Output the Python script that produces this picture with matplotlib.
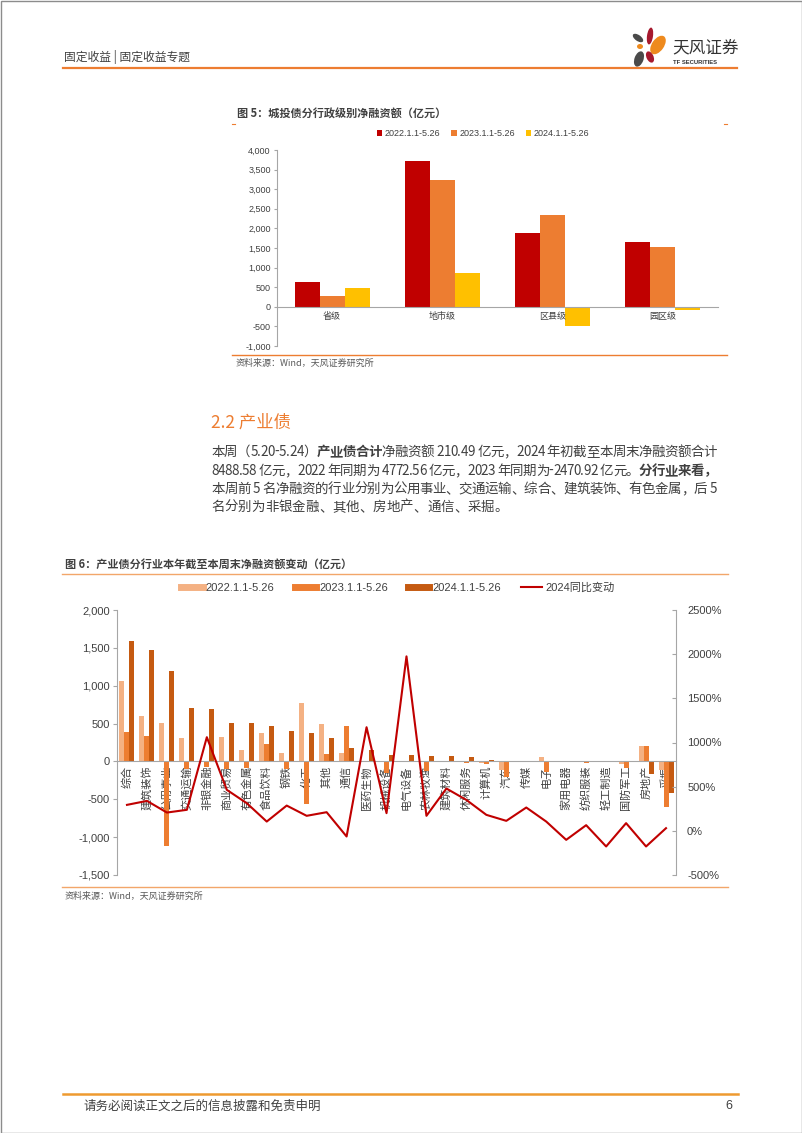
import matplotlib
matplotlib.use("Agg")
import matplotlib.pyplot as plt
from matplotlib.patches import Ellipse, Rectangle
from matplotlib.lines import Line2D
import numpy as np

plt.rcParams['font.family'] = ['Liberation Sans', 'Noto Sans CJK SC', 'DejaVu Sans']
CJK = ['Noto Sans CJK SC', 'DejaVu Sans']

# 图5 城投债分行政级别净融资额（亿元）
cats1 = ['省级', '地市级', '区县级', '园区级']
lg_2022 = [640, 3720, 1880, 1650]
lg_2023 = [270, 3240, 2350, 1520]
lg_2024 = [480, 870, -500, -80]
ticks1 = [-1000, -500, 0, 500, 1000, 1500, 2000, 2500, 3000, 3500, 4000]

# 图6 产业债分行业净融资额（亿元）及2024同比变动（%）
cats2 = ['综合', '建筑装饰', '公用事业', '交通运输', '非银金融', '商业贸易', '有色金属',
         '食品饮料', '钢铁', '化工', '其他', '通信', '医药生物', '机械设备', '电气设备',
         '农林牧渔', '建筑材料', '休闲服务', '计算机', '汽车', '传媒', '电子', '家用电器',
         '纺织服装', '轻工制造', '国防军工', '房地产', '采掘']
ind_2022 = [1056, 594, 506, 313, 5, 321, 154, 374, 106, 770, 498, 115, -10, 10, 10,
            0, 0, -10, -20, -119, -5, 57, -5, -10, -10, -30, 202, -119]
ind_2023 = [387, 330, -1122, -100, -75, -96, -90, 224, -96, -559, 92, 466, 0, -150, 0,
            -120, 0, -20, -30, -207, -10, -141, -5, -20, -5, -88, 202, -603]
ind_2024 = [1589, 1475, 1193, 704, 696, 506, 506, 471, 400, 374, 313, 172, 145, 88, 79,
            66, 66, 57, 20, -5, 10, -5, -5, -5, 0, -10, -163, -418]
yoy_2024 = [294, 339, 207, 238, 1060, 464, 313, 105, 286, 170, 211, -64, 1173, 200, 1975,
            170, 479, 350, 181, 113, 264, 105, -102, 64, -177, 87, -177, 30]

W, H = 802, 1133
fig = plt.figure(figsize=(W / 100, H / 100), dpi=100)

# 整页的像素坐标层
page = fig.add_axes([0, 0, 1, 1])
page.set_xlim(0, W)
page.set_ylim(H, 0)
page.axis('off')

def ax_rect(x0, y0, x1, y1):
    return [x0 / W, 1 - y1 / H, (x1 - x0) / W, (y1 - y0) / H]

ORANGE = '#ED7D31'
GRAY = '#404040'
AXC = '#A6A6A6'

# 页眉
page.text(64, 57, '固定收益 | 固定收益专题', fontsize=8.5, color=GRAY, va='center', family=CJK)
page.plot([63, 737], [68, 68], color=ORANGE, lw=1.6)
petals = [
    ((650, 36), 6, 17, 8, '#A6192E'),
    ((658, 45), 12, 21, 35, '#EE8A1E'),
    ((638, 38), 6, 12, -55, '#4A4A4A'),
    ((640, 46.5), 6, 5, 0, '#EE8A1E'),
    ((639, 59), 9, 16, 20, '#4A4A4A'),
    ((650, 57), 7, 12, -25, '#A6192E'),
]
for c, w, h, a, col in petals:
    page.add_patch(Ellipse(c, w, h, angle=a, color=col, lw=0))
page.text(672, 48, '天风证券', fontsize=12, color='#333333', va='center', family=CJK)
page.text(673, 63, 'TF SECURITIES', fontsize=4.2, fontweight='bold', color='#333333', va='center')

# 图5
page.text(237, 114, '图 5：城投债分行政级别净融资额（亿元）', fontsize=8, fontweight='bold',
          color=GRAY, va='center', family=CJK)
page.plot([232, 235], [124, 124], color=ORANGE, lw=0.8)
page.plot([724, 727], [124, 124], color=ORANGE, lw=0.8)

ax1 = fig.add_axes(ax_rect(277, 150, 718, 346))
ax1.set_facecolor('none')
ax1.spines['bottom'].set_position(('data', 0))
x1 = np.arange(len(cats1))
bw1 = 0.227
ax1.bar(x1 - bw1, lg_2022, bw1, color='#C00000', label='2022.1.1-5.26')
ax1.bar(x1, lg_2023, bw1, color=ORANGE, label='2023.1.1-5.26')
ax1.bar(x1 + bw1, lg_2024, bw1, color='#FFC000', label='2024.1.1-5.26')
ax1.set_xlim(-0.5, len(cats1) - 0.5)
ax1.set_ylim(-1000, 4000)
ax1.set_yticks(ticks1)
ax1.set_yticklabels([f'{v:,}' for v in ticks1], fontsize=6.5, color=GRAY)
ax1.set_xticks(x1)
ax1.set_xticklabels(cats1, fontsize=6.5, color=GRAY, family=CJK)
ax1.spines[['top', 'right']].set_visible(False)
for s in ['left', 'bottom']:
    ax1.spines[s].set_color(AXC)
    ax1.spines[s].set_linewidth(0.8)
ax1.tick_params(axis='x', length=0, pad=4)
ax1.tick_params(axis='y', length=2.5, color=AXC, pad=2)
ax1.legend(loc='center', bbox_to_anchor=(483 / W, 1 - 134 / H), bbox_transform=fig.transFigure,
           ncol=3, frameon=False, fontsize=6.5, handlelength=0.6, handleheight=0.6,
           handletextpad=0.3, columnspacing=1.2, labelcolor=GRAY)

page.plot([232, 727], [355, 355], color=ORANGE, lw=1.0)
page.text(236, 363, '资料来源：Wind，天风证券研究所', fontsize=6.5, color='#595959', va='center', family=CJK)

# 正文
page.text(211, 423, '2.2 产业债', fontsize=12.5, color=ORANGE, va='center', family=CJK)

BODY_FS = 9.7
renderer = fig.canvas.get_renderer()

def body_line(y, segs, x0=211, x1=717, justify=True):
    probe = page.text(0, 0, '', fontsize=BODY_FS, family=CJK)
    items = []
    off = 0.0
    for s, wt in segs:
        probe.set_fontweight(wt)
        probe.set_text('x')
        wx = probe.get_window_extent(renderer).width
        for i, ch in enumerate(s):
            probe.set_text(s[:i] + 'x')
            items.append((ch, wt, off + probe.get_window_extent(renderer).width - wx))
        probe.set_text(s + 'x')
        off += probe.get_window_extent(renderer).width - wx
    probe.remove()
    extra = (x1 - x0 - off) / (len(items) - 1) if justify else 0
    for i, (ch, wt, xo) in enumerate(items):
        if ch == ' ':
            continue
        page.text(x0 + xo + i * extra, y, ch, fontsize=BODY_FS, fontweight=wt,
                  color=GRAY, va='center', family=CJK)

body_line(452, [('本周（5.20-5.24）', 'normal'), ('产业债合计', 'bold'),
                ('净融资额 210.49 亿元，2024 年初截至本周末净融资额合计', 'normal')])
body_line(471, [('8488.58 亿元，2022 年同期为 4772.56 亿元，2023 年同期为-2470.92 亿元。', 'normal'),
                ('分行业来看，', 'bold')])
body_line(489, [('本周前 5 名净融资的行业分别为公用事业、交通运输、综合、建筑装饰、有色金属，后 5', 'normal')])
body_line(507, [('名分别为非银金融、其他、房地产、通信、采掘。', 'normal')], justify=False)

# 图6
page.text(65, 564, '图 6：产业债分行业本年截至本周末净融资额变动（亿元）', fontsize=8, fontweight='bold',
          color=GRAY, va='center', family=CJK)
page.plot([62, 728], [574, 574], color='#F2A66A', lw=1.0)

ax2 = fig.add_axes(ax_rect(117, 610, 676, 875))
ax2.set_facecolor('none')
ax2.spines['bottom'].set_position(('data', 0))
x2 = np.arange(len(cats2))
bw2 = 0.25
ax2.bar(x2 - bw2, ind_2022, bw2, color='#F4B183', zorder=2)
ax2.bar(x2, ind_2023, bw2, color=ORANGE, zorder=2)
ax2.bar(x2 + bw2, ind_2024, bw2, color='#C55A11', zorder=2)
ax2.set_xlim(-0.5, len(cats2) - 0.5)
ax2.set_ylim(-1500, 2000)
ticks2 = [-1500, -1000, -500, 0, 500, 1000, 1500, 2000]
ax2.set_yticks(ticks2)
ax2.set_yticklabels([f'{v:,}' for v in ticks2], fontsize=8, color=GRAY)
ax2.set_xticks(x2)
ax2.set_xticklabels(cats2, rotation=90, fontsize=8, color=GRAY, family=CJK)
ax2.spines[['top', 'right']].set_visible(False)
for s in ['left', 'bottom']:
    ax2.spines[s].set_color(AXC)
    ax2.spines[s].set_linewidth(0.8)
ax2.tick_params(axis='x', length=0, pad=3)
ax2.tick_params(axis='y', length=3, color=AXC, pad=2)

ax2r = ax2.twinx()
ax2r.plot(x2, yoy_2024, color='#C00000', lw=1.5)
ax2r.set_ylim(-500, 2500)
ticks2r = [-500, 0, 500, 1000, 1500, 2000, 2500]
ax2r.set_yticks(ticks2r)
ax2r.set_yticklabels([f'{v}%' for v in ticks2r], fontsize=8, color=GRAY)
ax2r.spines[['top', 'left', 'bottom']].set_visible(False)
ax2r.spines['right'].set_color(AXC)
ax2r.spines['right'].set_linewidth(0.8)
ax2r.tick_params(axis='y', length=3, direction='in', color=AXC, pad=8)

handles = [Line2D([], [], color='#F4B183', lw=5),
           Line2D([], [], color=ORANGE, lw=5),
           Line2D([], [], color='#C55A11', lw=5),
           Line2D([], [], color='#C00000', lw=1.5)]
labels = ['2022.1.1-5.26', '2023.1.1-5.26', '2024.1.1-5.26', '2024同比变动']
ax2.legend(handles, labels, loc='center', bbox_to_anchor=(398 / W, 1 - 588 / H),
           bbox_transform=fig.transFigure, ncol=4, frameon=False, fontsize=8,
           handlelength=1.9, handletextpad=0.3, columnspacing=1.8, labelcolor=GRAY)

page.plot([62, 728], [887, 887], color='#F2A66A', lw=1.0)
page.text(65, 896, '资料来源：Wind，天风证券研究所', fontsize=6.5, color='#595959', va='center', family=CJK)

# 页脚
page.plot([63, 738], [1094, 1094], color='#EE9A30', lw=1.8)
page.text(84, 1106, '请务必阅读正文之后的信息披露和免责申明', fontsize=9, color=GRAY, va='center', family=CJK)
page.text(729, 1106, '6', fontsize=9, color=GRAY, va='center', ha='center')

page.add_patch(Rectangle((0.5, 0.5), W - 1, H - 1, fill=False, edgecolor='#8C8C8C', lw=1))

fig.savefig('out.png', dpi=100)
